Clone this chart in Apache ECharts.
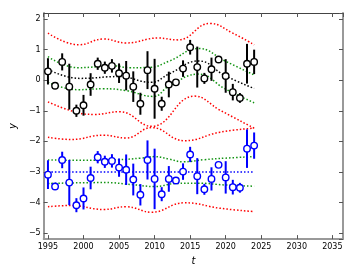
<!DOCTYPE html>
<html><head><meta charset="utf-8">
<script src="https://cdn.jsdelivr.net/npm/echarts@6/dist/echarts.min.js"></script>
<style>html,body{margin:0;padding:0;background:#fff}#c{width:361px;height:271px}</style>
</head><body><div id="c"></div>
<script>
const years = [1995,1996,1997,1998,1999,2000,2001,2002,2003,2004,2005,2006,2007,2008,2009,2010,2011,2012,2013,2014,2015,2016,2017,2018,2019,2020,2021,2022,2023,2024];
const blackY   = [0.29,-0.18,0.60,-0.21,-1.00,-0.82,-0.14,0.54,0.41,0.47,0.23,0.15,-0.21,-0.77,0.33,-0.28,-0.77,-0.14,-0.07,0.38,1.08,0.43,0.06,0.36,0.68,0.14,-0.39,-0.58,0.54,0.60];
const blackErr = [0.43,0.05,0.28,0.75,0.20,0.34,0.37,0.20,0.20,0.22,0.32,0.48,0.50,0.36,0.62,0.98,0.23,0.42,0.05,0.27,0.24,0.67,0.18,0.38,0.05,0.55,0.27,0.16,0.65,0.40];
const blueY    = [-3.09,-3.48,-2.61,-3.35,-4.09,-3.87,-3.20,-2.52,-2.67,-2.64,-2.86,-2.93,-3.25,-3.75,-2.61,-3.23,-3.73,-3.23,-3.28,-2.99,-2.43,-3.14,-3.57,-3.23,-2.77,-3.18,-3.50,-3.52,-2.24,-2.14];
const blueErr  = [0.47,0.05,0.27,0.74,0.23,0.36,0.37,0.20,0.20,0.22,0.30,0.50,0.52,0.35,0.64,0.99,0.23,0.42,0.05,0.27,0.25,0.59,0.18,0.38,0.05,0.53,0.24,0.16,0.63,0.43];

// band curves, group A (black)
const redUpA_t = [1995,1999.4,2002.8,2006,2010.5,2013.3,2017.8,2021,2024];
const redUpA_v = [1.54,1.16,1.35,1.22,1.38,1.32,1.86,1.54,1.16];
const grnUpA_t = [1995,1999.2,2002,2004.2,2006.5,2009.3,2012.1,2016.2,2019.9,2024];
const grnUpA_v = [0.77,0.41,0.44,0.47,0.41,0.42,0.63,1.04,0.63,0.17];
const meanA_t  = [1995,1999.5,2005,2009.5,2012,2016.2,2019.9,2024];
const meanA_v  = [0.35,0.06,0.12,-0.07,0.2,0.63,0.15,-0.27];
const grnLoA_t = [1995,1999.2,2002.8,2006,2009.8,2012.1,2016.2,2019.9,2024];
const grnLoA_v = [-0.07,-0.31,-0.28,-0.34,-0.53,-0.18,0.2,-0.28,-0.74];
const redLoA_t = [1995,1998.7,2001.5,2005.1,2009.6,2015.6,2019.2,2024];
const redLoA_v = [-0.71,-1.03,-1.12,-1.03,-1.51,-0.52,-0.98,-1.57];
// band curves, group B (blue)
const redUpB_t = [1995,1998.3,2002.8,2006,2009.6,2014.2,2019.2,2024];
const redUpB_v = [-1.87,-1.94,-1.80,-1.89,-1.55,-1.98,-1.70,-1.57];
const grnUpB_t = [1995,2000,2005,2008,2010,2012,2014,2017,2020,2024];
const grnUpB_v = [-2.61,-2.62,-2.60,-2.55,-2.50,-2.58,-2.67,-2.60,-2.55,-2.50];
const meanB_t  = [1995,2024];
const meanB_v  = [-3.0,-3.0];
const grnLoB_t = [1995,2003,2007,2010,2013,2016,2020,2024];
const grnLoB_v = [-3.38,-3.35,-3.42,-3.48,-3.38,-3.37,-3.43,-3.47];
const redLoB_t = [1995,1998.3,2002.8,2006,2009.6,2014.2,2019.2,2024];
const redLoB_v = [-4.14,-4.10,-4.23,-4.14,-4.32,-4.01,-4.19,-4.30];

const RED = '#ff0000', GRN = '#129412', BLK = '#000000', BLU = '#0000ff';

function curve(t, v, color) {
  return {type:'line', data:t.map((x,i)=>[x,v[i]]), showSymbol:false, smooth:0.45, silent:true,
    lineStyle:{color:color, width:1.5, type:[1.5,2]}, z:1};
}
function errBars(ys, errs, color) {
  return {type:'custom', silent:true, z:3,
    data: years.map((t,i)=>[t, ys[i]-errs[i], ys[i]+errs[i]]),
    encode:{x:0, y:[1,2]},
    renderItem:(params, api)=>{
      const p1 = api.coord([api.value(0), api.value(1)]);
      const p2 = api.coord([api.value(0), api.value(2)]);
      return {type:'line', shape:{x1:p1[0],y1:p1[1],x2:p2[0],y2:p2[1]}, style:{stroke:color, lineWidth:2}};
    }};
}
function pts(ys, color) {
  return {type:'scatter', silent:true, z:4, data: years.map((t,i)=>[t, ys[i]]), symbol:'circle', symbolSize:6.5,
    itemStyle:{color:'#ffffff', borderColor:color, borderWidth:1.4, opacity:1}};
}

const axisFont = {fontFamily:'DejaVu Sans', fontSize:8, color:'#000'};
const chart = echarts.init(document.getElementById('c'), null, {renderer:'canvas'});
chart.setOption({
  backgroundColor:'#fff',
  animation:false,
  grid:{left:35, right:18, top:13, bottom:28},
  xAxis:[
    {type:'value', min:1994.4, max:2036.5, minInterval:5, maxInterval:5, position:'bottom',
     name:'t', nameLocation:'middle', nameGap:14,
     nameTextStyle:{fontFamily:'DejaVu Sans', fontStyle:'italic', fontSize:10, color:'#000'},
     axisLine:{onZero:false, lineStyle:{color:'#999', width:2}},
     axisTick:{inside:true, length:4, lineStyle:{color:'#555'}},
     axisLabel:{...axisFont, margin:4, showMinLabel:false, showMaxLabel:false, formatter:v=>String(v)},
     splitLine:{show:false}},
    {type:'value', min:1994.4, max:2036.5, minInterval:5, maxInterval:5, position:'top',
     axisLine:{onZero:false, lineStyle:{color:'#444', width:1}},
     axisTick:{inside:true, length:4, lineStyle:{color:'#555'}},
     axisLabel:{show:false}, splitLine:{show:false}}
  ],
  yAxis:[
    {type:'value', min:-5.2, max:2.2, minInterval:1, maxInterval:1, position:'left',
     name:'y', nameLocation:'middle', nameGap:22, nameRotate:90,
     nameTextStyle:{fontFamily:'DejaVu Sans', fontStyle:'italic', fontSize:10, color:'#000'},
     axisLine:{show:true, onZero:false, lineStyle:{color:'#999', width:2}},
     axisTick:{show:true, inside:true, length:4, lineStyle:{color:'#555'}},
     axisLabel:{...axisFont, margin:3, showMinLabel:false, showMaxLabel:false,
       formatter:v=>String(v).replace('-', '\u2212')},
     splitLine:{show:false}},
    {type:'value', min:-5.2, max:2.2, minInterval:1, maxInterval:1, position:'right',
     axisLine:{show:true, onZero:false, lineStyle:{color:'#999', width:2}},
     axisTick:{show:true, inside:true, length:4, lineStyle:{color:'#555'}},
     axisLabel:{show:false}, splitLine:{show:false}}
  ],
  series:[
    curve(redUpA_t, redUpA_v, RED),
    curve(grnUpA_t, grnUpA_v, GRN),
    curve(meanA_t, meanA_v, BLK),
    curve(grnLoA_t, grnLoA_v, GRN),
    curve(redLoA_t, redLoA_v, RED),
    curve(redUpB_t, redUpB_v, RED),
    curve(grnUpB_t, grnUpB_v, GRN),
    curve(meanB_t, meanB_v, BLU),
    curve(grnLoB_t, grnLoB_v, GRN),
    curve(redLoB_t, redLoB_v, RED),
    errBars(blackY, blackErr, BLK),
    errBars(blueY, blueErr, BLU),
    pts(blackY, BLK),
    pts(blueY, BLU)
  ]
});
</script></body></html>
